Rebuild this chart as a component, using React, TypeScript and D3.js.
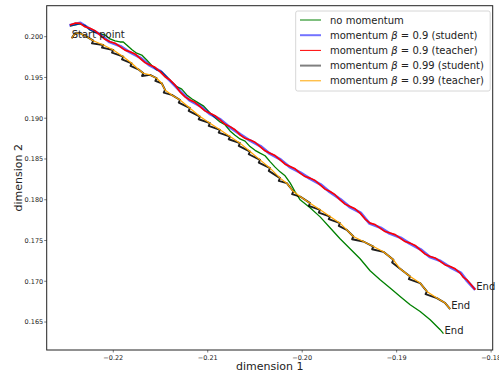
import React from "react";
import * as d3 from "d3";

const W = 499;
const H = 376;

// x ticks / y ticks
const xTicks = [-0.22, -0.21, -0.2, -0.19, -0.18];
const yTicks = [0.165, 0.17, 0.175, 0.18, 0.185, 0.19, 0.195, 0.2];

// no momentum (green)
const noMomX = [-0.22459, -0.22353, -0.223, -0.22247, -0.22194, -0.22141, -0.22088, -0.22035, -0.21982, -0.21929, -0.21894, -0.21858, -0.21805, -0.21752, -0.21699, -0.21646, -0.21593, -0.2154, -0.21487, -0.21434, -0.21381, -0.21328, -0.21275, -0.21222, -0.2117, -0.21117, -0.21047, -0.20976, -0.20923, -0.2087, -0.20817, -0.20764, -0.20711, -0.20658, -0.20605, -0.20552, -0.20499, -0.20446, -0.20393, -0.2034, -0.20287, -0.20234, -0.20181, -0.20128, -0.20075, -0.20022, -0.19916, -0.1981, -0.19705, -0.19599, -0.19493, -0.19387, -0.19281, -0.19175, -0.19069, -0.18963, -0.18857, -0.18751, -0.18645, -0.18539, -0.18504];
const noMomY = [0.20131, 0.20156, 0.20139, 0.20082, 0.20052, 0.20033, 0.20022, 0.19972, 0.19948, 0.19935, 0.19936, 0.19898, 0.19842, 0.19797, 0.19775, 0.19714, 0.19648, 0.19592, 0.19571, 0.1951, 0.19443, 0.19387, 0.19356, 0.19286, 0.19238, 0.192, 0.19152, 0.19065, 0.19005, 0.18955, 0.1892, 0.18844, 0.1879, 0.18746, 0.18719, 0.18652, 0.18606, 0.18571, 0.1854, 0.18468, 0.184, 0.18342, 0.18294, 0.18207, 0.18098, 0.17999, 0.17901, 0.1779, 0.17656, 0.17521, 0.17398, 0.17276, 0.17129, 0.17018, 0.16917, 0.16814, 0.16712, 0.1663, 0.16528, 0.16406, 0.16357];

// momentum 0.9 teacher (red)
const m09TeacherX = [-0.22459, -0.22406, -0.22353, -0.223, -0.22247, -0.22194, -0.22141, -0.22088, -0.22035, -0.21982, -0.21929, -0.21876, -0.21823, -0.2177, -0.21717, -0.21664, -0.21611, -0.21558, -0.21505, -0.21452, -0.21399, -0.21346, -0.21293, -0.2124, -0.21188, -0.21135, -0.21082, -0.21029, -0.20976, -0.20923, -0.2087, -0.20817, -0.20764, -0.20711, -0.20658, -0.20605, -0.20552, -0.20499, -0.20446, -0.20393, -0.2034, -0.20287, -0.20234, -0.20181, -0.20128, -0.20075, -0.20022, -0.19969, -0.19916, -0.19863, -0.1981, -0.19758, -0.19705, -0.19652, -0.19599, -0.19546, -0.19493, -0.1944, -0.19387, -0.19334, -0.19281, -0.19228, -0.19175, -0.19122, -0.19069, -0.19016, -0.18963, -0.1891, -0.18857, -0.18804, -0.18751, -0.18698, -0.18645, -0.18592, -0.18539, -0.18486, -0.18433, -0.1838, -0.18327, -0.18292, -0.18256, -0.18168];
const m09TeacherY = [0.20143, 0.20166, 0.20164, 0.20121, 0.20103, 0.20074, 0.20021, 0.19968, 0.19939, 0.1992, 0.19877, 0.19835, 0.19816, 0.19788, 0.19735, 0.19682, 0.19653, 0.19624, 0.19571, 0.19508, 0.19469, 0.19408, 0.19322, 0.19261, 0.19224, 0.19195, 0.19142, 0.1909, 0.19061, 0.19032, 0.18979, 0.18926, 0.18897, 0.18858, 0.18795, 0.18753, 0.18734, 0.18705, 0.18652, 0.186, 0.18571, 0.18542, 0.18489, 0.18436, 0.18407, 0.18379, 0.18326, 0.18284, 0.18265, 0.18236, 0.18183, 0.1813, 0.18101, 0.18062, 0.17999, 0.17946, 0.17917, 0.17889, 0.17836, 0.17763, 0.17713, 0.17695, 0.17652, 0.1761, 0.17591, 0.17572, 0.17529, 0.17487, 0.17468, 0.17439, 0.17386, 0.17333, 0.17304, 0.17286, 0.17243, 0.172, 0.17181, 0.17153, 0.171, 0.17047, 0.17018, 0.16896];

// momentum 0.9 student (blue)
const m09StudentX = [-0.22465, -0.22348, -0.22252, -0.22136, -0.2204, -0.21924, -0.21828, -0.21712, -0.21616, -0.215, -0.21404, -0.21288, -0.21193, -0.21077, -0.20981, -0.20865, -0.20769, -0.20653, -0.20557, -0.20441, -0.20345, -0.20229, -0.20133, -0.20017, -0.19921, -0.19805, -0.1971, -0.19594, -0.19498, -0.19382, -0.19286, -0.1917, -0.19074, -0.18958, -0.18862, -0.18746, -0.1865, -0.18534, -0.18438, -0.18322, -0.18261, -0.18168];
const m09StudentY = [0.20138, 0.20169, 0.20098, 0.20026, 0.19934, 0.19882, 0.19811, 0.1974, 0.19648, 0.19576, 0.19464, 0.19327, 0.19219, 0.19147, 0.19056, 0.18984, 0.18892, 0.188, 0.18729, 0.18657, 0.18566, 0.18494, 0.18402, 0.18331, 0.1826, 0.18188, 0.18096, 0.18004, 0.17912, 0.17841, 0.17708, 0.17657, 0.17586, 0.17534, 0.17463, 0.17391, 0.17299, 0.17248, 0.17176, 0.17105, 0.17013, 0.16896];

// momentum 0.99 teacher (orange)
const m099TeacherX = [-0.22441, -0.22406, -0.22353, -0.22282, -0.22212, -0.22106, -0.22, -0.21894, -0.21805, -0.21735, -0.21682, -0.21611, -0.2154, -0.21487, -0.21452, -0.21381, -0.21293, -0.21188, -0.21082, -0.20976, -0.2087, -0.20764, -0.20658, -0.20552, -0.20446, -0.2034, -0.20234, -0.20163, -0.20093, -0.20022, -0.19916, -0.1981, -0.19705, -0.19599, -0.19528, -0.19458, -0.19352, -0.19246, -0.1914, -0.19034, -0.18963, -0.18857, -0.18751, -0.1868, -0.18574, -0.18486, -0.18433];
const m099TeacherY = [0.1998, 0.20042, 0.20042, 0.2, 0.19951, 0.19898, 0.19837, 0.19755, 0.19674, 0.196, 0.19551, 0.19531, 0.1949, 0.19429, 0.19347, 0.19286, 0.19224, 0.19123, 0.1902, 0.18939, 0.18857, 0.18775, 0.18694, 0.18591, 0.18489, 0.18387, 0.18265, 0.18203, 0.18101, 0.18039, 0.17958, 0.17876, 0.17794, 0.17713, 0.17631, 0.17549, 0.17488, 0.17426, 0.17361, 0.17263, 0.17153, 0.17059, 0.16978, 0.16875, 0.16794, 0.16733, 0.16659];

// momentum 0.99 student (black) with the small spikes
const m099StudentX = [-0.22441, -0.22406, -0.22353, -0.22282, -0.22212, -0.22226, -0.22106, -0.2212, -0.22, -0.22014, -0.21894, -0.21908, -0.21805, -0.21818, -0.21735, -0.21682, -0.21696, -0.21611, -0.2154, -0.21555, -0.21487, -0.21452, -0.21466, -0.21381, -0.21293, -0.21307, -0.21188, -0.21202, -0.21082, -0.21096, -0.20976, -0.2099, -0.2087, -0.20884, -0.20764, -0.20778, -0.20658, -0.20672, -0.20552, -0.20566, -0.20446, -0.2046, -0.2034, -0.20354, -0.20234, -0.20248, -0.20163, -0.20093, -0.20107, -0.20022, -0.19916, -0.1993, -0.1981, -0.19824, -0.19705, -0.19719, -0.19599, -0.19613, -0.19528, -0.19458, -0.19472, -0.19352, -0.19246, -0.1926, -0.1914, -0.19034, -0.19048, -0.18963, -0.18857, -0.18871, -0.18751, -0.1868, -0.18694, -0.18574, -0.18486, -0.18433];
const m099StudentY = [0.1998, 0.20042, 0.20042, 0.2, 0.19951, 0.19918, 0.19898, 0.19865, 0.19837, 0.19804, 0.19755, 0.19722, 0.19674, 0.19641, 0.196, 0.19551, 0.19518, 0.19531, 0.1949, 0.19457, 0.19429, 0.19347, 0.19314, 0.19286, 0.19224, 0.19191, 0.19123, 0.1909, 0.1902, 0.18987, 0.18939, 0.18906, 0.18857, 0.18824, 0.18775, 0.18742, 0.18694, 0.18661, 0.18591, 0.18558, 0.18489, 0.18456, 0.18387, 0.18354, 0.18265, 0.18232, 0.18203, 0.18101, 0.18068, 0.18039, 0.17958, 0.17925, 0.17876, 0.17843, 0.17794, 0.17761, 0.17713, 0.1768, 0.17631, 0.17549, 0.17516, 0.17488, 0.17426, 0.17393, 0.17361, 0.17263, 0.1723, 0.17153, 0.17059, 0.17026, 0.16978, 0.16875, 0.16842, 0.16794, 0.16733, 0.16659];

const legendLabels = [
  "no momentum",
  "momentum β = 0.9 (student)",
  "momentum β = 0.9 (teacher)",
  "momentum β = 0.99 (student)",
  "momentum β = 0.99 (teacher)",
];

const FONT = "DejaVu Sans, sans-serif";

const margin = { left: 46.7, right: 6.3, top: 5.7, bottom: 26 };

export default function App() {
  const x = d3.scaleLinear().domain([-0.22705, -0.17983]).range([margin.left, W - margin.right]);
  const y = d3.scaleLinear().domain([0.16157, 0.2038]).range([H - margin.bottom, margin.top]);

  const zip = (xs: number[], ys: number[]) => xs.map((v, i) => [v, ys[i]] as [number, number]);
  const line = d3.line<[number, number]>().x((d) => x(d[0])).y((d) => y(d[1]));

  const green = zip(noMomX, noMomY);
  const blue = zip(m09StudentX, m09StudentY);
  const red = zip(m09TeacherX, m09TeacherY);
  const black = zip(m099StudentX, m099StudentY);
  const orange = zip(m099TeacherX, m099TeacherY);

  const series = [
    { data: green, color: "green", width: 1.3, opacity: 1 },
    { data: blue, color: "blue", width: 2.8, opacity: 0.6 },
    { data: red, color: "red", width: 1.6, opacity: 1 },
    { data: black, color: "black", width: 1.9, opacity: 0.88 },
    { data: orange, color: "orange", width: 1.2, opacity: 1 },
  ];

  const legendStyles = [
    { color: "green", width: 1, opacity: 1 },
    { color: "blue", width: 2, opacity: 0.55 },
    { color: "red", width: 1, opacity: 1 },
    { color: "black", width: 2, opacity: 0.5 },
    { color: "orange", width: 1, opacity: 1 },
  ];

  const x0 = margin.left;
  const x1 = W - margin.right;
  const y0 = margin.top;
  const y1 = H - margin.bottom;

  const ends = [green[green.length - 1], red[red.length - 1], orange[orange.length - 1]];
  const start = orange[0];

  return (
    <svg width={W} height={H} style={{ position: "absolute", left: 0, top: 0, background: "white" }} fontFamily={FONT}>
      <rect x={0} y={0} width={W} height={H} fill="white" />
      {series.map((s, i) => (
        <path key={i} d={line(s.data) || ""} fill="none" stroke={s.color} strokeWidth={s.width} strokeOpacity={s.opacity} strokeLinejoin="round" />
      ))}
      <text x={x(start[0])} y={y(start[1])} fontSize={10} fill="#222">Start point</text>
      {ends.map((e, i) => (
        <text key={i} x={x(e[0]) + 1} y={y(e[1])} fontSize={10} fill="#222">End</text>
      ))}
      {/* axes frame */}
      <rect x={x0} y={y0} width={x1 - x0} height={y1 - y0} fill="none" stroke="#222" strokeWidth={1} />
      {xTicks.map((t) => (
        <g key={t}>
          <line x1={x(t)} x2={x(t)} y1={y1} y2={y1 + 2.5} stroke="#222" strokeWidth={0.6} />
          <text x={x(t)} y={y1 + 9.5} fontSize={6.5} textAnchor="middle" fill="#222">{d3.format(".2f")(t).replace("-", "−")}</text>
        </g>
      ))}
      {yTicks.map((t) => (
        <g key={t}>
          <line x1={x0 - 2.5} x2={x0} y1={y(t)} y2={y(t)} stroke="#222" strokeWidth={0.6} />
          <text x={x0 - 3.5} y={y(t) + 2.3} fontSize={6.5} textAnchor="end" fill="#222">{d3.format(".3f")(t)}</text>
        </g>
      ))}
      <text x={(x0 + x1) / 2} y={370} fontSize={11} textAnchor="middle" fill="#222">dimension 1</text>
      <text transform={`translate(22,${(y0 + y1) / 2}) rotate(-90)`} fontSize={11} textAnchor="middle" fill="#222">dimension 2</text>
      {/* legend */}
      <rect x={295.7} y={11} width={194.5} height={80} rx={2} fill="white" fillOpacity={0.8} stroke="#ccc" strokeWidth={0.8} />
      {legendLabels.map((lab, i) => {
        const ly = 20 + i * 15.2;
        const st = legendStyles[i];
        const parts = lab.split("β");
        return (
          <g key={lab}>
            <line x1={300} x2={321} y1={ly} y2={ly} stroke={st.color} strokeWidth={st.width} strokeOpacity={st.opacity} />
            <text x={330} y={ly + 3.6} fontSize={10} fill="#222">
              {parts.length > 1 ? (
                <>
                  {parts[0]}
                  <tspan fontStyle="italic">β</tspan>
                  {parts[1]}
                </>
              ) : (
                lab
              )}
            </text>
          </g>
        );
      })}
    </svg>
  );
}
